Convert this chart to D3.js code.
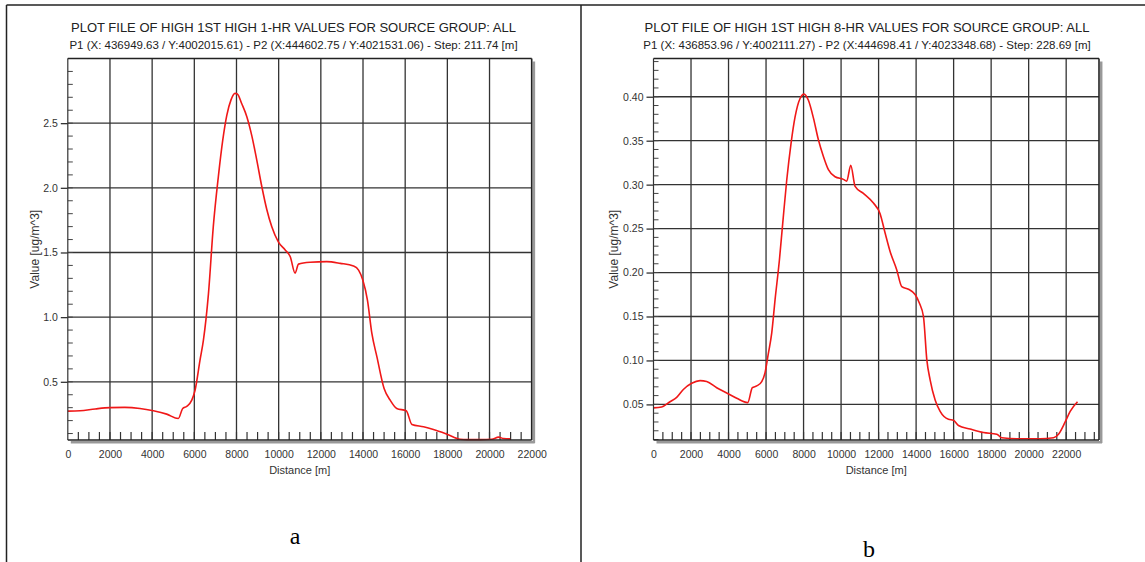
<!DOCTYPE html>
<html>
<head>
<meta charset="utf-8">
<script src="https://cdn.jsdelivr.net/npm/d3@7"></script>
<style>
  body { margin: 0; background: #fff; }
</style>
</head>
<body>
<div id="chart"></div>
<script>
// ---- data ----
const titleA = 'PLOT FILE OF HIGH 1ST HIGH 1-HR VALUES FOR SOURCE GROUP: ALL'
const subA = 'P1 (X: 436949.63 / Y:4002015.61) - P2 (X:444602.75 / Y:4021531.06) - Step: 211.74 [m]'
const titleB = 'PLOT FILE OF HIGH 1ST HIGH 8-HR VALUES FOR SOURCE GROUP: ALL'
const subB = 'P1 (X: 436853.96 / Y:4002111.27) - P2 (X:444698.41 / Y:4023348.68) - Step: 228.69 [m]'

const distA = [0, 580, 1300, 2000, 2700, 3420, 4060, 4690, 5240, 5450, 5640, 5880, 6035, 6270, 6430, 6670,
    6900, 7140, 7350, 7540, 7740, 7930, 8040, 8250, 8490, 8730, 8960, 9200, 9440, 9670, 9990, 10310, 10550,
    10780, 10940, 11490, 12280, 12920, 13550, 13790, 13990, 14210, 14420, 14660, 15000, 15290, 15600, 16050,
    16320, 16870, 17340, 17980, 18610, 18930, 19560, 20110, 20430, 20670, 20980]
const valA = [0.273, 0.276, 0.29, 0.30, 0.302, 0.294, 0.276, 0.25, 0.216, 0.294, 0.31, 0.358, 0.435, 0.668, 0.82, 1.18,
    1.70, 2.087, 2.37, 2.56, 2.68, 2.73, 2.726, 2.65, 2.55, 2.40, 2.216, 2.01, 1.83, 1.70, 1.58, 1.52, 1.467,
    1.34, 1.41, 1.424, 1.429, 1.416, 1.395, 1.364, 1.287, 1.132, 0.874, 0.693, 0.448, 0.358, 0.294, 0.276,
    0.17, 0.152, 0.131, 0.095, 0.056, 0.053, 0.053, 0.056, 0.072, 0.061, 0.059]

const distB = [0, 435, 880, 1236, 1591, 2036, 2480, 2836, 3369, 3902, 4436, 5022, 5271, 5502, 5769, 5947, 6124,
    6302, 6480, 6711, 6889, 7102, 7333, 7547, 7813, 8027, 8258, 8524, 8791, 9058, 9324, 9680, 10124, 10302,
    10516, 10747, 11191, 11724, 12080, 12347, 12613, 12969, 13236, 13591, 13947, 14178, 14392, 14570, 14747,
    15014, 15281, 15725, 15991, 16258, 16880, 17591, 18302, 18569, 19369, 20613, 21324, 21591, 21947, 22213, 22604]
const valB = [0.046, 0.047, 0.053, 0.058, 0.067, 0.074, 0.077, 0.076, 0.069, 0.063, 0.057, 0.052, 0.069, 0.071,
    0.076, 0.086, 0.108, 0.131, 0.169, 0.214, 0.256, 0.305, 0.347, 0.377, 0.398, 0.403, 0.396, 0.376, 0.351,
    0.332, 0.317, 0.309, 0.306, 0.304, 0.322, 0.298, 0.290, 0.279, 0.267, 0.245, 0.224, 0.203, 0.184, 0.181,
    0.175, 0.165, 0.150, 0.101, 0.078, 0.055, 0.042, 0.033, 0.032, 0.026, 0.022, 0.018, 0.016, 0.012, 0.011,
    0.011, 0.012, 0.016, 0.030, 0.042, 0.053]

const xTicks = [0, 2000, 4000, 6000, 8000, 10000, 12000, 14000, 16000, 18000, 20000, 22000]
const yTicksA = [0.5, 1.0, 1.5, 2.0, 2.5]
const yTicksB = [0.05, 0.10, 0.15, 0.20, 0.25, 0.30, 0.35, 0.40]

const width = 1145
const height = 562
const plotTop = 58.5
const plotBottom = 440

const svg = d3.select('#chart').append('svg')
    .attr('width', width)
    .attr('height', height)
    .style('font-family', 'Arial, "Liberation Sans", sans-serif')

// outer frame of the figure (two boxes side by side)
svg.append('g')
    .attr('stroke', '#222')
    .attr('stroke-width', 1.5)
    .call(g => g.append('line').attr('x1', 6.5).attr('x2', width).attr('y1', 5).attr('y2', 5))
    .call(g => g.append('line').attr('x1', 6.5).attr('x2', 6.5).attr('y1', 5).attr('y2', height))
    .call(g => g.append('line').attr('x1', 581).attr('x2', 581).attr('y1', 5).attr('y2', height))

const panels = [
    {
        title: titleA, sub: subA, tag: 'a', dist: distA, val: valA,
        xMax: 22000, yDomain: [0.05, 3.0], yTicks: yTicksA, yStep: 0.1, fmt: d3.format('.1f'),
        left: 67.8, right: 531.7, cx: 293.5, tagX: 295, tagY: 544, yTitleX: 36
    },
    {
        title: titleB, sub: subB, tag: 'b', dist: distB, val: valB,
        xMax: 23750, yDomain: [0.0095, 0.4435], yTicks: yTicksB, yStep: 0.01, fmt: d3.format('.2f'),
        left: 653.5, right: 1099, cx: 867, tagX: 869, tagY: 557, yTitleX: 615
    }
]

panels.forEach(p => {
    const g = svg.append('g')

    const xScale = d3.scaleLinear()
        .domain([0, p.xMax])
        .range([p.left, p.right])
    const yScale = d3.scaleLinear()
        .domain(p.yDomain)
        .range([plotBottom, plotTop])

    // titles
    g.append('text')
        .attr('x', p.cx).attr('y', 32)
        .attr('text-anchor', 'middle')
        .attr('font-size', 13)
        .attr('fill', '#222')
        .text(p.title)
    g.append('text')
        .attr('x', p.cx).attr('y', 49)
        .attr('text-anchor', 'middle')
        .attr('font-size', 11.5)
        .attr('fill', '#222')
        .text(p.sub)

    // grid
    g.append('g')
        .attr('stroke', '#333')
        .attr('stroke-width', 1.3)
        .call(gg => gg.selectAll('line.v')
            .data(xTicks.filter(d => d > 0 && d < p.xMax))
            .join('line')
            .attr('class', 'v')
            .attr('x1', d => xScale(d)).attr('x2', d => xScale(d))
            .attr('y1', plotTop).attr('y2', plotBottom))
        .call(gg => gg.selectAll('line.h')
            .data(p.yTicks)
            .join('line')
            .attr('class', 'h')
            .attr('x1', p.left).attr('x2', p.right)
            .attr('y1', d => yScale(d)).attr('y2', d => yScale(d)))

    // minor ticks inside the frame
    const yMinor = d3.range(Math.ceil(p.yDomain[0] / p.yStep), Math.floor(p.yDomain[1] / p.yStep) + 1)
        .map(i => +(i * p.yStep).toFixed(3))
    g.append('g')
        .attr('stroke', '#444')
        .attr('stroke-width', 1)
        .selectAll('line')
        .data(yMinor)
        .join('line')
        .attr('x1', p.left).attr('x2', p.left + 5)
        .attr('y1', d => yScale(d)).attr('y2', d => yScale(d))

    const xMinor = d3.range(500, p.xMax, 500)
    g.append('g')
        .attr('stroke', '#333')
        .attr('stroke-width', 1.2)
        .selectAll('line')
        .data(xMinor)
        .join('line')
        .attr('x1', d => xScale(d)).attr('x2', d => xScale(d))
        .attr('y1', plotBottom).attr('y2', plotBottom - 8)

    // curve
    const pts = p.dist.map((d, i) => [d, p.val[i]])
    const line = d3.line()
        .x(d => xScale(d[0]))
        .y(d => yScale(d[1]))
        .curve(d3.curveMonotoneX)
    g.append('path')
        .datum(pts)
        .attr('d', line)
        .attr('fill', 'none')
        .attr('stroke', '#f01818')
        .attr('stroke-width', 1.6)

    // frame: left and top thin, right and bottom with a grey shadow
    g.append('g')
        .attr('fill', 'none')
        .call(gg => gg.append('line')
            .attr('x1', p.left).attr('x2', p.left).attr('y1', plotTop).attr('y2', plotBottom)
            .attr('stroke', '#333').attr('stroke-width', 1.2))
        .call(gg => gg.append('line')
            .attr('x1', p.left).attr('x2', p.right).attr('y1', plotTop).attr('y2', plotTop)
            .attr('stroke', '#222').attr('stroke-width', 1.5))
        .call(gg => gg.append('line')
            .attr('x1', p.right + 2.2).attr('x2', p.right + 2.2).attr('y1', plotTop + 3).attr('y2', plotBottom + 3)
            .attr('stroke', '#999').attr('stroke-width', 2.5))
        .call(gg => gg.append('line')
            .attr('x1', p.left + 3).attr('x2', p.right + 3).attr('y1', plotBottom + 2.2).attr('y2', plotBottom + 2.2)
            .attr('stroke', '#999').attr('stroke-width', 2.5))
        .call(gg => gg.append('line')
            .attr('x1', p.right).attr('x2', p.right).attr('y1', plotTop).attr('y2', plotBottom)
            .attr('stroke', '#222').attr('stroke-width', 1.6))
        .call(gg => gg.append('line')
            .attr('x1', p.left).attr('x2', p.right).attr('y1', plotBottom).attr('y2', plotBottom)
            .attr('stroke', '#222').attr('stroke-width', 1.6))

    // axes (labels + short outer ticks on y)
    const yAxis = g.append('g')
        .attr('transform', `translate(${p.left}, 0)`)
        .call(d3.axisLeft(yScale).tickValues(p.yTicks).tickFormat(p.fmt).tickSize(7).tickPadding(3))
    yAxis.select('.domain').remove()
    yAxis.selectAll('line').attr('stroke', '#333').attr('stroke-width', 1.3)
    yAxis.selectAll('text').attr('font-size', 10.5).attr('fill', '#333')
        .attr('font-family', 'Arial, "Liberation Sans", sans-serif')

    const xAxis = g.append('g')
        .attr('transform', `translate(0, ${plotBottom})`)
        .call(d3.axisBottom(xScale).tickValues(xTicks).tickFormat(d3.format('d')).tickSize(0).tickPadding(10.5))
    xAxis.select('.domain').remove()
    xAxis.selectAll('text').attr('font-size', 10.5).attr('fill', '#333')
        .attr('font-family', 'Arial, "Liberation Sans", sans-serif')

    // axis titles
    g.append('text')
        .attr('x', (p.left + p.right) / 2).attr('y', 474)
        .attr('text-anchor', 'middle')
        .attr('font-size', 11)
        .attr('fill', '#333')
        .text('Distance [m]')
    g.append('text')
        .attr('transform', `translate(${p.yTitleX}, ${(plotTop + plotBottom) / 2}) rotate(-90)`)
        .attr('text-anchor', 'middle')
        .attr('dominant-baseline', 'middle')
        .attr('font-size', 12)
        .attr('fill', '#333')
        .text('Value [ug/m^3]')

    // panel letter
    g.append('text')
        .attr('x', p.tagX).attr('y', p.tagY)
        .attr('text-anchor', 'middle')
        .attr('font-family', '"Liberation Serif", "Times New Roman", serif')
        .attr('font-size', 24)
        .attr('fill', '#000')
        .text(p.tag)
})
</script>
</body>
</html>
